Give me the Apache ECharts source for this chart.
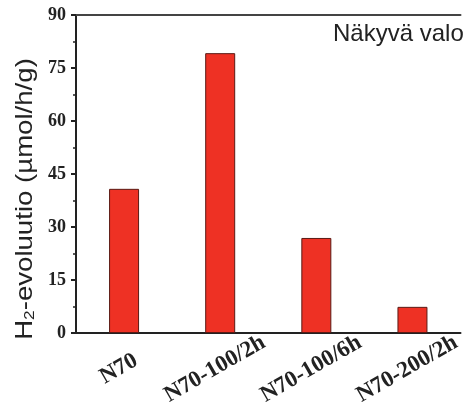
<!DOCTYPE html>
<html><head><meta charset="utf-8">
<script src="https://cdn.jsdelivr.net/npm/echarts@6/dist/echarts.min.js"></script>
<style>html,body{margin:0;padding:0;background:#fff}#c{width:463px;height:413px}</style>
</head><body><div id="c"></div>
<script>
const categories = ['N70', 'N70-100/2h', 'N70-100/6h', 'N70-200/2h'];
const values = [40.8, 79.2, 26.9, 7.4];
const yTicks = [0, 15, 30, 45, 60, 75, 90];
const yNameMain = 'H';
const yNameSub = '2';
const yNameRest = '-evoluutio (µmol/h/g)';
const note = 'Näkyvä valo';

const chart = echarts.init(document.getElementById('c'), null, {renderer: 'canvas'});
chart.setOption({
  animation: false,
  grid: {left: 76, right: -8, top: 15, bottom: 80},
  xAxis: [{
    type: 'category', data: categories, position: 'bottom',
    axisLine: {lineStyle: {color: '#222', width: 2}},
    axisTick: {alignWithLabel: true, length: 5, lineStyle: {color: '#222', width: 2}},
    axisLabel: {rotate: 30, margin: 33, align: 'center', verticalAlign: 'middle', padding: [0, 12, 0, 0],
      fontFamily: 'Liberation Serif', fontWeight: 'bold', fontSize: 23, color: '#222'}
  }, {
    type: 'category', data: categories, position: 'top',
    axisLine: {lineStyle: {color: '#444', width: 2}},
    axisTick: {show: false}, axisLabel: {show: false}
  }],
  yAxis: {
    type: 'value', min: yTicks[0], max: yTicks[yTicks.length - 1], interval: 15,
    axisLine: {show: true, lineStyle: {color: '#222', width: 2}},
    axisTick: {show: true, length: 5, lineStyle: {color: '#222', width: 2}},
    minorTick: {show: true, splitNumber: 2, length: 3, lineStyle: {color: '#222', width: 1.5}},
    splitLine: {show: false},
    axisLabel: {margin: 10, fontFamily: 'Liberation Serif', fontWeight: 'bold', fontSize: 18, color: '#222'}
  },
  graphic: [{
    type: 'text', left: 333, top: 22,
    style: {text: note, fontFamily: 'Liberation Sans', fontSize: 24, fill: '#222'}
  }, {
    type: 'text', x: 25, y: 199, rotation: Math.PI / 2, scaleX: 1.15,
    style: {
      text: '{a|' + yNameMain + '}{s|' + yNameSub + '}{a|' + yNameRest + '}',
      align: 'center', verticalAlign: 'middle',
      rich: {
        a: {fontFamily: 'Liberation Sans', fontSize: 24, fill: '#222', color: '#222'},
        s: {fontFamily: 'Liberation Sans', fontSize: 15, fill: '#222', color: '#222', verticalAlign: 'bottom', padding: [8, 0, 0, 0]}
      }
    }
  }],
  series: [{
    type: 'bar', data: values, barWidth: 30, xAxisIndex: 0,
    itemStyle: {color: '#EE3124', borderColor: '#5a1a14', borderWidth: 1}
  }]
});
</script></body></html>
